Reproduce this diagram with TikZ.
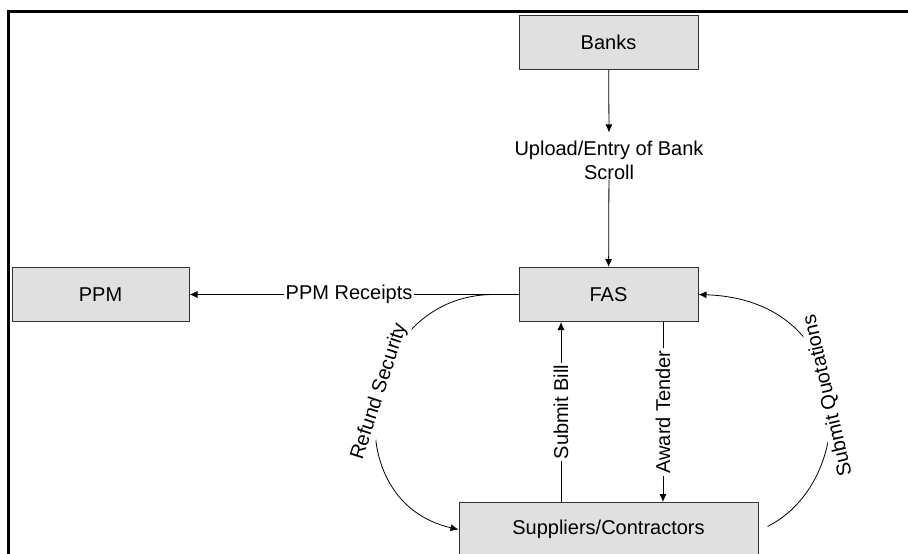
\documentclass[tikz,border=0pt]{standalone}
\usepackage{fontspec}
\setmainfont{Liberation Sans}
\usetikzlibrary{arrows.meta,positioning}

\begin{document}
\begin{tikzpicture}[x=1pt,y=-1pt,
  every node/.style={font=\fontsize{20}{24}\selectfont},
  box/.style={draw=black!80,line width=1pt,fill=black!12,minimum height=54pt,inner sep=0pt},
  flow/.style={-{Latex[length=8pt,width=7pt]},line width=0.8pt},
  lbl/.style={fill=white,inner sep=2pt}]
  \useasboundingbox (0,0) rectangle (908,554);
  \begin{scope}
    \clip (0,0) rectangle (908,554);
    \draw[line width=3pt] (8.7,11.3) rectangle (925,575);
  \end{scope}
  % boxes
  \node[box,minimum width=179pt] (banks) at (608.5,42.5) {Banks};
  \node[box,minimum width=179pt,below=197pt of banks] (fas) {FAS};
  \node[box,minimum width=177pt,left=329pt of fas] (ppm) {PPM};
  \node[box,minimum width=299pt,below=180pt of fas] (sup) {Suppliers/Contractors};
  \node[align=center,inner sep=0pt] (upload) at (609,160) {Upload/Entry of Bank\\Scroll};
  % flows
  \draw[flow] (banks) -- ([yshift=8pt]upload.north);
  \draw[flow] (upload) -- (fas);
  \draw[flow] (fas) -- node[lbl,pos=0.515]{PPM Receipts} (ppm);
  \draw[flow] ([xshift=-47.5pt]sup.north) -- node[lbl,rotate=90]{Submit Bill} ([xshift=-47.5pt]fas.south);
  \draw[flow] ([xshift=54.5pt]fas.south) -- node[lbl,rotate=90]{Award Tender} ([xshift=54.5pt]sup.north);
  \draw[flow] ([xshift=-26pt]fas.west) .. controls (360,296) and (330,500) .. (sup.west)
    node[lbl,pos=0.47,rotate=72]{Refund Security};
  \draw[flow] ([xshift=9pt,yshift=3pt]sup.east) .. controls (860,480) and (860,300) .. (fas.east)
    node[lbl,pos=0.5,rotate=103]{Submit Quotations};
\end{tikzpicture}
\end{document}
